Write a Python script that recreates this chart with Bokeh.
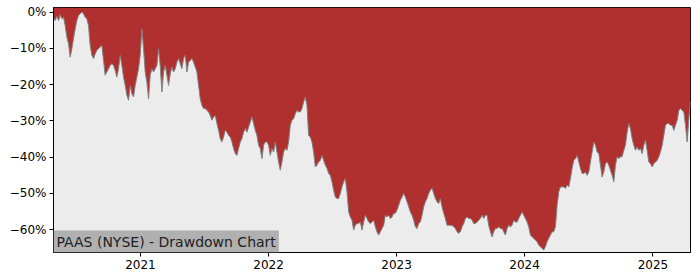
import pandas as pd
from bokeh.plotting import figure
from bokeh.models import Range1d, FixedTicker, Label, DatetimeTickFormatter, ColumnDataSource
from bokeh.embed import file_html
from bokeh.resources import INLINE

# ---- data (drawdown in %, sampled evenly from first to last date) ----
start_date = "2020-04-28"
end_date = "2025-04-18"

dd_2020 = [-1.8, -2.3, -1.1, -2.3, -0.7, -1.8, -1.4, -3.7, -6.9, -8.7,
           -12.4, -10.1, -7.3, -4.6, -2.3, -0.9, -0.4, 0.0, -0.4, -1.4,
           -1.8, -3.7, -9.2, -11.9, -12.8, -11.5, -10.5, -10.1, -9.6, -9.2,
           -13.3, -17.4, -16.5, -15.6, -14.7, -14.2, -14.7, -16.1, -17.9, -15.6,
           -11.9, -14.7, -17.9, -20.2, -22.9, -24.3]
dd_2021a = [-20.2, -22.5, -23.4, -20.2, -17.9, -15.6, -11.9, -4.6, -10.1, -16.5,
            -19.3, -23.9, -17.4, -15.6, -16.5, -15.6, -14.7, -10.1, -14.7, -22.0,
            -16.5, -14.7, -17.4, -20.2, -17.0, -15.1, -16.5, -15.6, -13.8, -12.8,
            -14.2, -15.6, -12.8, -11.9, -16.5, -13.8, -13.3, -12.8, -13.8, -15.1,
            -16.5, -20.2, -23.9, -25.7, -26.6, -26.6, -27.1, -27.5]
dd_2021b = [-28.5, -29.8, -28.9, -28.5, -30.7, -32.6, -34.9, -35.8, -34.4, -32.6,
            -33.1, -34.0, -34.4, -35.8, -37.6, -39.0, -39.5, -37.6, -35.8, -34.9,
            -33.1, -32.1, -33.1, -31.7, -30.3, -28.9, -30.7, -32.6, -34.0, -36.7,
            -37.6, -40.4, -36.7, -35.8, -35.8, -36.7, -39.5, -37.6, -38.6, -35.8,
            -38.6, -41.3, -43.6, -41.3, -38.6, -37.6, -38.1, -35.8]
dd_2022 = [-31.2, -29.8, -29.4, -28.0, -27.1, -27.5, -27.5, -26.6, -24.8, -23.4,
           -25.7, -34.0, -34.4, -35.8, -38.6, -42.7, -42.2, -41.3, -40.9, -39.5,
           -40.9, -42.2, -43.1, -44.5, -45.0, -46.8, -49.1, -51.0, -51.4, -51.4,
           -50.0, -48.2, -46.8, -45.9, -49.6, -55.1, -56.5, -57.4, -60.1, -58.8,
           -58.3, -58.3, -57.9, -60.1, -57.9, -56.0, -56.9, -57.9]
dd_2023a = [-58.3, -57.9, -57.4, -59.2, -60.6, -61.5, -60.6, -59.7, -58.8, -56.0,
            -56.5, -56.0, -56.9, -56.5, -55.5, -55.5, -54.6, -53.3, -51.9, -51.0,
            -50.0, -51.0, -52.3, -53.7, -55.1, -56.0, -57.4, -59.2, -59.7, -58.3,
            -57.9, -56.0, -53.7, -52.3, -51.4, -50.0, -49.1, -48.6, -50.0, -51.4,
            -52.3, -52.8, -51.4, -53.7, -55.5, -56.9, -58.8, -58.8]
dd_2023b = [-58.8, -58.8, -59.2, -59.7, -60.6, -61.0, -60.6, -59.2, -58.3, -56.9,
            -56.5, -56.9, -56.9, -57.4, -58.3, -58.3, -57.9, -57.4, -56.9, -56.0,
            -56.9, -56.0, -56.0, -58.8, -60.6, -62.0, -60.6, -59.7, -59.7, -59.2,
            -59.7, -59.7, -60.6, -61.5, -59.7, -58.8, -59.2, -58.8, -57.4, -57.9,
            -57.9, -56.9, -56.0, -55.1, -56.0, -56.9, -57.9, -59.2]
dd_2024 = [-61.5, -62.0, -62.4, -62.9, -63.3, -64.3, -64.7, -65.2, -65.6, -64.7,
           -63.3, -62.4, -61.5, -60.6, -60.6, -59.2, -53.3, -49.6, -48.2, -48.2,
           -48.2, -48.6, -47.7, -48.2, -45.9, -43.1, -40.9, -40.4, -39.5, -41.3,
           -43.1, -44.5, -44.5, -44.1, -45.0, -44.1, -41.3, -38.6, -35.8, -36.7,
           -38.6, -39.0, -42.2, -45.5, -44.1, -41.8, -41.3, -42.2]
dd_2025 = [-43.6, -45.0, -46.8, -42.2, -39.9, -40.4, -39.9, -39.9, -38.1, -36.7,
           -33.1, -30.7, -32.1, -34.9, -36.7, -38.1, -37.2, -38.1, -37.6, -39.0,
           -36.7, -35.3, -38.1, -41.3, -41.8, -42.7, -41.8, -41.3, -40.9, -39.9,
           -38.6, -36.7, -34.0, -31.2, -30.7, -30.7, -31.2, -31.2, -32.6, -31.2,
           -29.8, -27.1, -26.6, -27.1, -27.5, -31.2, -35.8, -29.4, -24.8]

y_ticks = [0, -10, -20, -30, -40, -50, -60]
y_tick_labels = ["0%", "\u221210%", "\u221220%", "\u221230%", "\u221240%", "\u221250%", "\u221260%"]
x_tick_years = [2021, 2022, 2023, 2024, 2025]
title_text = "PAAS (NYSE) - Drawdown Chart"
y_bottom, y_top = -66.3, 1.3

drawdown = dd_2020 + dd_2021a + dd_2021b + dd_2022 + dd_2023a + dd_2023b + dd_2024 + dd_2025
dates = pd.date_range(start_date, end_date, periods=len(drawdown))
src = ColumnDataSource(dict(date=dates, dd=drawdown))

FONT = "DejaVu Sans"

p = figure(width=700, height=280, x_axis_type="datetime", output_backend="svg",
           toolbar_location=None, min_border_left=53, min_border_right=10,
           min_border_top=7, min_border_bottom=28,
           x_range=Range1d(dates[0], dates[-1]), y_range=Range1d(y_bottom, y_top),
           background_fill_color="#ececec", border_fill_color="white")
p.outline_line_color = "black"
p.outline_line_width = 1
p.xgrid.visible = False
p.ygrid.visible = False

p.varea(x="date", y1="dd", y2=y_top, source=src, fill_color="#b03030")
p.line(x="date", y="dd", source=src, line_color="#808080", line_width=1)

p.yaxis.ticker = FixedTicker(ticks=y_ticks)
p.yaxis.major_label_overrides = {t: l for t, l in zip(y_ticks, y_tick_labels)}
tick_ms = [pd.Timestamp(f"{y}-01-01").value // 10**6 for y in x_tick_years]
p.xaxis.ticker = FixedTicker(ticks=tick_ms)
p.xaxis.formatter = DatetimeTickFormatter(years="%Y", months="%Y", days="%Y", hours="%Y")

for ax in (p.xaxis[0], p.yaxis[0]):
    ax.axis_line_color = "black"
    ax.major_tick_line_color = "black"
    ax.major_tick_in = 0
    ax.major_tick_out = 4
    ax.minor_tick_line_color = None
    ax.major_label_text_font = FONT
    ax.major_label_text_font_size = "12px"
    ax.major_label_text_color = "black"
    ax.major_label_standoff = 3

lbl = Label(x=dates[0], y=y_bottom, text=title_text, text_font=FONT,
            text_font_size="14px", text_color="#222222", text_align="left",
            text_baseline="bottom", background_fill_color="#b0b0b0",
            padding=3)
p.add_layout(lbl)

open("out.html", "w").write(file_html(p, INLINE))
